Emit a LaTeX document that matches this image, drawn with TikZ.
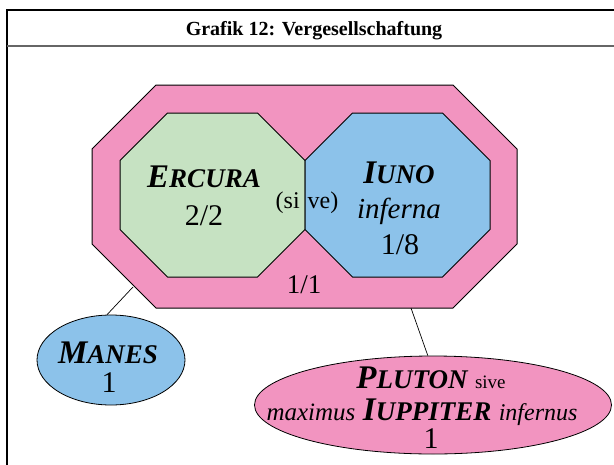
\documentclass[tikz,border=0pt]{standalone}
\usepackage{fontspec}
\setmainfont{Liberation Serif}
\usetikzlibrary{shapes.geometric, positioning}
\definecolor{rosa}{RGB}{242,148,192}
\definecolor{gruen}{RGB}{198,226,194}
\definecolor{blau}{RGB}{140,194,234}
\newcommand{\kapit}[2]{{\bfseries\itshape\fontsize{33}{36}\selectfont #1\fontsize{27}{30}\selectfont #2}}
% Achteck: links, oben, rechts, unten, Fase
\newcommand{\achteck}[6]{%
  \draw[octa, fill=#6] ({#1+#5},#2) -- ({#3-#5},#2) -- (#3,{#2+#5}) -- (#3,{#4-#5})
    -- ({#3-#5},#4) -- ({#1+#5},#4) -- (#1,{#4-#5}) -- (#1,{#2+#5}) -- cycle;}

\begin{document}
\begin{tikzpicture}[x=1pt, y=-1pt,
  octa/.style={line width=1pt, line join=miter},
  oval/.style={draw, ellipse, line width=0.8pt, inner sep=0pt},
  txt/.style={anchor=base, inner sep=0pt, font=\fontsize{30}{32}\selectfont}]
  \clip (0,0) rectangle (614,464);
  % Rahmen und Titel
  \draw[line width=1.2pt] (7,470) -- (7,10) -- (620,10);
  \draw[line width=1.6pt, black!60] (7,46) -- (620,46);
  \node[anchor=base, font=\bfseries\fontsize{20}{22}\selectfont] (titel) at (314,35) {Grafik 12: Vergesellschaftung};

  % Achtecke
  \achteck{92}{85}{517}{308}{64}{rosa}
  \achteck{120}{113}{305}{277}{47.5}{gruen}
  \achteck{305}{113}{490}{277}{47.5}{blau}

  \node[txt] (ercname) at (204,187) {\kapit{E}{RCURA}};
  \node[txt] (ercwert) at (204,225) {2/2};
  \node[txt] (iunoname) at (399,183) {\kapit{I}{UNO}};
  \node[txt, font=\itshape\fontsize{29}{31}\selectfont] (iunozus) at (399,218) {inferna};
  \node[txt] (iunowert) at (400,254) {1/8};
  \node[txt, font=\fontsize{24}{26}\selectfont] (sive) at (307,208) {(si\,\,ve)};
  \node[txt, font=\fontsize{27}{29}\selectfont] (gesamtwert) at (304,293) {1/1};

  % Ellipsen
  \node[oval, fill=blau, minimum width=148pt, minimum height=90pt] (manes) at (111,360) {};
  \node[txt] (manesname) at (108,363) {\kapit{M}{ANES}};
  \node[txt] (maneswert) at (109,392) {1};

  \node[oval, fill=rosa, minimum width=357pt, minimum height=98pt] (pluton) at (433,405) {};
  \node[txt] (plutonname) at (431,388) {\kapit{P}{LUTON} {\fontsize{19}{20}\selectfont sive}};
  \node[txt] (plutonzus) at (422,420) {{\itshape\fontsize{25}{27}\selectfont maximus} \kapit{I}{UPPITER} {\itshape\fontsize{24}{26}\selectfont infernus}};
  \node[txt] (plutonwert) at (431,448) {1};

  % Verbindungen
  \coordinate (mansatz) at (133,287);
  \coordinate (pansatz) at (411,308);
  \draw[line width=0.7pt] (manes.95) -- (mansatz);
  \draw[line width=0.7pt] (pluton.96) -- (pansatz);
\end{tikzpicture}
\end{document}
